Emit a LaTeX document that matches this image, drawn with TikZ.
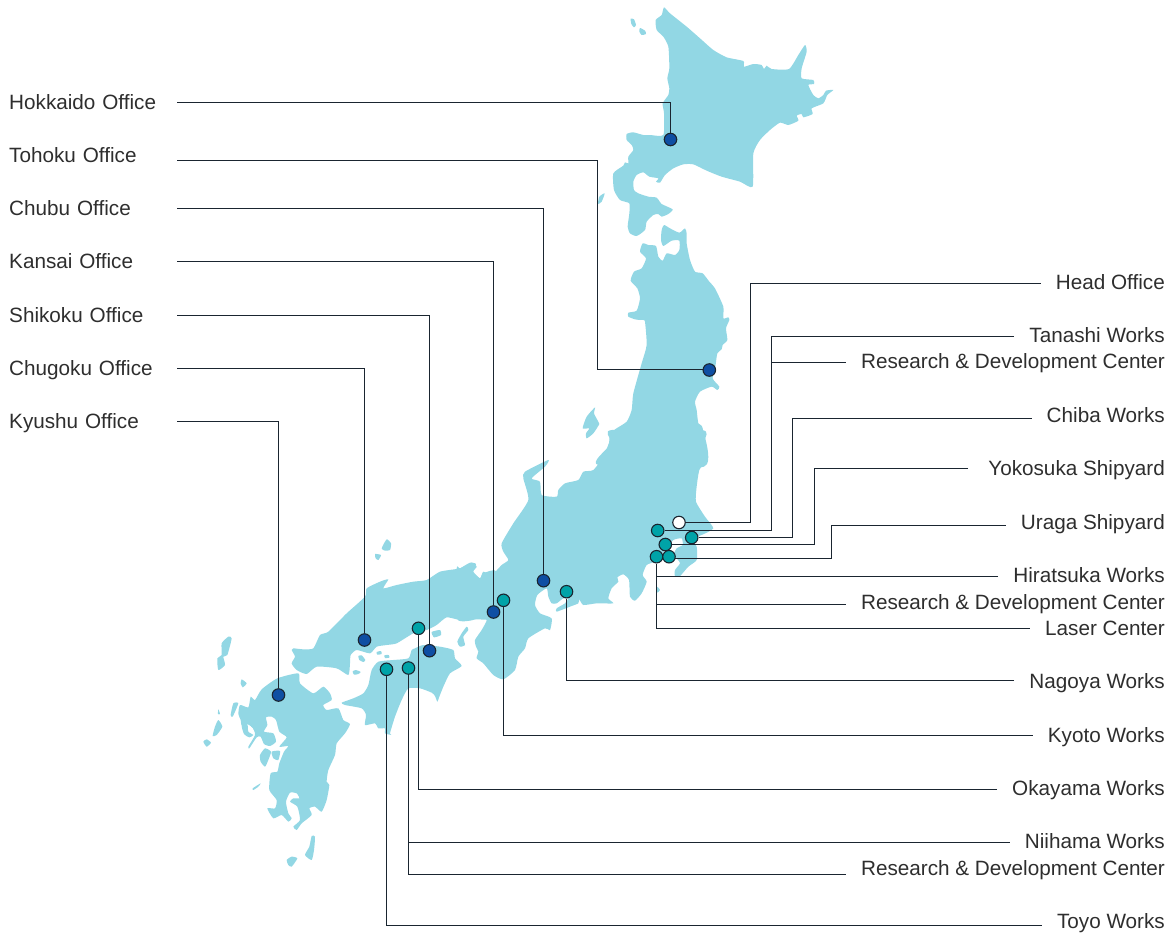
\documentclass[tikz,border=0pt]{standalone}
\usepackage{fontspec}
\setmainfont{Liberation Sans}
\definecolor{landc}{HTML}{92D7E4}
\definecolor{bluedot}{HTML}{0F4FA3}
\definecolor{tealdot}{HTML}{00A3A8}
\definecolor{inkc}{HTML}{1A2530}
\definecolor{textc}{HTML}{2E2E2E}
\tikzset{
  zoomed/.style 2 args={shift={(#1,#2)},x=.33333pt,y=-.33333pt},
  land/.style={fill=landc,draw=none},
  gap/.style={fill=white,draw=none},
  labelbase/.style={inner ysep=0pt,text height=16pt,text depth=2pt,text=textc,font=\fontsize{20.7}{24}\selectfont},
  leftlabel/.style={labelbase,inner xsep=0pt,text width=168pt,align=left,anchor=west},
  rightlabel/.style={labelbase,inner xsep=15pt,anchor=east},
  dotbase/.style={circle,draw=inkc,line width=1.1pt,minimum size=12.5pt,inner sep=0pt},
  office/.style={dotbase,fill=bluedot},
  works/.style={dotbase,fill=tealdot},
  head/.style={dotbase,fill=white},
  link/.style={draw=inkc,line width=1pt},
}
\newcommand{\isle}[1]{\fill[land] plot[smooth cycle,tension=.35] coordinates {#1};}
\newcommand{\hole}[1]{\fill[gap] plot[smooth cycle,tension=.35] coordinates {#1};}
\begin{document}
\begin{tikzpicture}[x=1pt,y=-1pt]
\useasboundingbox (0,0) rectangle (1173,935);
% Hokkaido
\begin{scope}[zoomed={590}{0}]
\isle{(222,22)(240,40)(290,80)(330,115)(370,150)(410,172)(460,183)(462,200)(490,192)(515,195)(522,207)(530,197)(545,207)(597,207)(625,165)(645,135)(650,155)(635,205)(635,235)(670,240)(672,252)(655,255)(670,285)(685,295)(700,285)(708,272)(730,270)(712,285)(700,310)(665,325)(668,342)(640,352)(635,342)(620,347)(625,362)(595,375)(570,368)(540,390)(510,420)(490,460)(488,560)(450,545)(395,530)(350,512)(310,493)(280,493)(250,505)(225,525)(210,548)(198,545)(205,535)(178,530)(160,517)(140,525)(130,545)(132,570)(145,580)(175,590)(200,593)(215,612)(248,628)(235,642)(215,650)(205,642)(190,645)(170,665)(165,690)(140,708)(120,700)(113,680)(118,640)(118,610)(90,600)(72,570)(70,520)(100,497)(105,487)(115,490)(115,470)(130,450)(125,435)(110,420)(110,402)(130,397)(160,405)(180,405)(220,405)(222,340)(218,310)(235,285)(238,265)(232,235)(238,205)(235,140)(220,110)(200,90)(197,60)(215,45)}
\isle{(122,56)(132,58)(138,75)(132,82)(124,72)}
\isle{(150,84)(165,92)(168,102)(155,105)(148,95)}
\isle{(28,590)(44,580)(35,605)(24,612)}
\end{scope}
% Tohoku
\begin{scope}[zoomed={480}{220}]
\isle{(552,15)(570,25)(598,38)(615,25)(620,40)(620,70)(630,120)(645,155)(668,160)(688,185)(705,205)(730,260)(730,295)(745,292)(748,300)(738,325)(742,360)(728,375)(725,388)(712,400)(706,440)(698,475)(718,500)(712,510)(695,500)(660,515)(645,545)(650,570)(655,610)(668,625)(672,740)(355,735)(385,680)(390,645)(405,628)(440,605)(455,570)(460,520)(485,430)(500,375)(495,305)(490,300)(480,300)(465,298)(445,290)(445,278)(470,272)(480,235)(472,205)(452,182)(462,155)(485,145)(498,115)(480,95)(488,70)(505,75)(528,78)(535,110)(548,122)(560,100)(585,105)(598,90)(598,62)(575,62)(550,78)(543,60)(545,30)}
\isle{(345,562)(342,580)(355,605)(358,612)(340,640)(320,655)(318,640)(328,625)(308,625)(320,590)}
\end{scope}
% Central Honshu
\begin{scope}[zoomed={460}{440}]
\isle{(400,90)(430,50)(450,0)(455,-30)(725,-30)(735,0)(738,60)(718,90)(710,140)(708,185)(735,230)(760,265)(725,285)(695,295)(710,320)(710,360)(685,380)(660,408)(645,408)(645,390)(660,370)(650,355)(640,345)(650,325)(668,315)(665,295)(640,300)(620,325)(600,350)(585,365)(560,375)(548,405)(560,425)(545,460)(525,482)(510,470)(507,420)(490,403)(472,412)(475,425)(455,445)(445,475)(460,490)(410,490)(370,495)(358,478)(355,490)(335,498)(290,515)(290,505)(315,490)(325,475)(310,475)(290,490)(275,490)(265,470)(260,445)(232,465)(225,495)(240,520)(275,535)(270,570)(255,565)(205,595)(195,625)(175,650)(165,690)(130,718)(100,705)(70,670)(50,655)(55,635)(48,620)(45,600)(65,570)(80,540)(55,535)(30,542)(-10,535)(-10,385)(0,385)(30,368)(48,372)(38,395)(60,415)(70,395)(95,405)(125,375)(145,360)(130,335)(125,310)(160,250)(205,180)(190,115)(195,95)(265,60)(255,80)(215,115)(240,125)(245,165)(290,170)(295,150)(315,130)(355,120)(370,95)}
\isle{(592,440)(600,450)(592,458)}
\end{scope}
% Western Honshu, Shikoku and islets
\begin{scope}[zoomed={280}{530}]
\isle{(650,125)(650,250)(620,268)(590,268)(540,270)(500,262)(470,285)(440,300)(400,310)(350,340)(320,345)(290,350)(270,370)(230,360)(212,375)(210,400)(205,435)(170,415)(110,410)(80,432)(50,420)(35,400)(45,380)(35,360)(40,355)(70,358)(100,355)(120,315)(145,305)(200,250)(255,200)(260,175)(300,155)(325,148)(310,175)(350,165)(400,155)(440,150)(480,125)(540,115)(575,98)(590,110)(580,125)(600,145)(610,130)}
\isle{(405,355)(430,345)(480,350)(520,360)(525,385)(545,408)(510,430)(490,470)(478,500)(472,515)(465,498)(455,488)(420,475)(385,475)(365,510)(345,560)(330,610)(335,615)(315,610)(315,595)(295,595)(285,580)(255,585)(258,555)(245,535)(195,525)(185,518)(220,505)(250,490)(265,465)(275,420)(295,395)(340,390)(385,385)(395,360)}
\isle{(560,290)(565,300)(550,320)(555,345)(540,350)(532,335)(545,310)}
\isle{(455,306)(480,300)(483,315)(462,322)}
\isle{(290,366)(303,363)(305,372)(292,374)}
\isle{(313,376)(326,375)(328,383)(315,384)}
\isle{(235,378)(245,376)(256,390)(250,396)(238,390)}
\isle{(218,424)(228,420)(242,426)(235,432)(222,434)}
\isle{(305,55)(320,28)(333,40)(330,60)(315,62)}
\isle{(285,72)(303,75)(295,90)(287,85)}
\end{scope}
% Kyushu
\begin{scope}[zoomed={190}{620}]
\isle{(262,175)(325,160)(330,190)(370,220)(400,200)(420,220)(425,240)(400,255)(410,270)(445,265)(460,300)(480,312)(465,340)(440,370)(435,405)(415,450)(410,485)(418,495)(410,540)(395,575)(375,560)(358,565)(365,585)(335,610)(320,630)(310,620)(330,600)(322,560)(300,545)(310,535)(328,535)(320,520)(300,518)(288,545)(295,580)(305,595)(295,605)(275,585)(250,595)(232,565)(255,565)(260,540)(238,510)(242,460)(262,455)(268,430)(282,395)(295,378)(268,380)(290,352)(268,335)(258,300)(245,290)(228,292)(232,315)(222,335)(250,340)(258,365)(240,378)(222,372)(212,350)(200,352)(178,385)(175,380)(195,345)(188,325)(172,312)(155,316)(152,300)(145,282)(150,255)(175,262)(182,230)(195,240)(215,208)}
\isle{(155,316)(172,312)(175,335)(190,345)(178,352)(162,342)}
\hole{(176,316)(188,325)(194,340)(186,338)}
\isle{(115,50)(125,55)(112,105)(100,110)(105,135)(85,150)(82,115)(95,105)(95,70)}
\isle{(155,178)(170,190)(158,202)(152,190)}
\isle{(130,250)(145,250)(128,290)(122,285)}
\isle{(85,268)(90,282)(84,282)}
\isle{(85,300)(97,320)(80,345)(68,348)(75,320)}
\isle{(40,365)(50,358)(63,368)(50,380)}
\isle{(188,505)(212,490)(205,500)(190,510)}
\isle{(365,648)(375,650)(372,690)(365,720)(345,705)(358,680)}
\isle{(290,720)(305,710)(322,715)(305,740)(295,735)}
\isle{(210,405)(225,385)(243,395)(235,420)(225,440)(212,425)}
\isle{(245,395)(270,393)(265,420)(250,415)}
\end{scope}
% Dots
\node[office] (dHok) at (670.5,139.5) {};
\node[office] (dToh) at (709.3,370) {};
\node[office] (dChu) at (543.5,580.7) {};
\node[office] (dKan) at (493.5,612) {};
\node[office] (dShi) at (429.5,650.7) {};
\node[office] (dChg) at (364.5,640) {};
\node[office] (dKyu) at (278.5,695) {};
\node[head] (dHead) at (679,522.5) {};
\node[works] (dTan) at (657.7,530.5) {};
\node[works] (dChi) at (691.7,537.5) {};
\node[works] (dYok) at (665.3,544.5) {};
\node[works] (dHir) at (656.5,556.7) {};
\node[works] (dUra) at (669,556.7) {};
\node[works] (dNag) at (566.5,591.7) {};
\node[works] (dKyo) at (503.5,600.3) {};
\node[works] (dOka) at (418.5,628.3) {};
\node[works] (dNii) at (408.5,668) {};
\node[works] (dToy) at (386.5,669.3) {};
% Left labels
\node[leftlabel] (lHok) at (9,102) {Hokkaido Office};
\node[leftlabel] (lToh) at (9,155.5) {Tohoku Office};
\node[leftlabel] (lChu) at (9,208.5) {Chubu Office};
\node[leftlabel] (lKan) at (9,261.5) {Kansai Office};
\node[leftlabel] (lShi) at (9,315) {Shikoku Office};
\node[leftlabel] (lChg) at (9,368.5) {Chugoku Office};
\node[leftlabel] (lKyu) at (9,421.5) {Kyushu Office};
% Right labels
\node[rightlabel] (lHead) at (1180,282) {Head Office};
\node[rightlabel] (lTan) at (1180,335) {Tanashi Works};
\node[rightlabel] (lRDa) at (1180,361.3) {Research \& Development Center};
\node[rightlabel] (lChi) at (1180,415) {Chiba Works};
\node[rightlabel,inner xsep=20pt] (lYok) at (1185,468) {Yokosuka Shipyard};
\node[rightlabel] (lUra) at (1180,522) {Uraga Shipyard};
\node[rightlabel] (lHir) at (1180,575) {Hiratsuka Works};
\node[rightlabel] (lRDb) at (1180,602) {Research \& Development Center};
\node[rightlabel] (lLas) at (1180,628) {Laser Center};
\node[rightlabel] (lNag) at (1180,681.5) {Nagoya Works};
\node[rightlabel] (lKyo) at (1180,735) {Kyoto Works};
\node[rightlabel] (lOka) at (1180,788) {Okayama Works};
\node[rightlabel] (lNii) at (1180,841.5) {Niihama Works};
\node[rightlabel] (lRDc) at (1180,868) {Research \& Development Center};
\node[rightlabel] (lToy) at (1180,921.5) {Toyo Works};
% Elbows
\coordinate (eToh) at (597.5,369.5);
\coordinate (fToh) at (702.8,369.5);
\coordinate (eHead) at (750.5,522.5);
\coordinate (eTan) at (771.5,530.5);
\coordinate (jTan) at (771.5,362.5);
\coordinate (eChi) at (792.5,537.5);
\coordinate (eYok) at (814.5,544.5);
\coordinate (eUra) at (831.5,558.5);
\coordinate (fUra) at (675,558.5);
% Connectors, left
\draw[link] ([yshift=-.5pt]lHok.east) -| (dHok);
\draw[link] ([yshift=-5pt]lToh.east) -| (eToh) -- (fToh);
\draw[link] (lChu.east) -| (dChu);
\draw[link] (lKan.east) -| (dKan);
\draw[link] ([yshift=-.5pt]lShi.east) -| (dShi);
\draw[link] (lChg.east) -| (dChg);
\draw[link] (lKyu.east) -| (dKyu);
% Connectors, right
\draw[link] ([yshift=-1.5pt]lHead.west) -| (eHead) -- (dHead);
\draw[link] ([yshift=-1.5pt]lTan.west) -| (eTan) -- (dTan);
\draw[link] ([yshift=-1.2pt]lRDa.west) -- (jTan);
\draw[link] ([yshift=-3.5pt]lChi.west) -| (eChi) -- (dChi);
\draw[link] ([yshift=-.5pt]lYok.west) -| (eYok) -- (dYok);
\draw[link] ([yshift=-3.5pt]lUra.west) -| (eUra) -- (fUra);
\draw[link] ([yshift=-1.5pt]lHir.west) -| (dHir);
\draw[link] ([yshift=-2.5pt]lRDb.west) -| (dHir);
\draw[link] ([yshift=-.5pt]lLas.west) -| (dHir);
\draw[link] ([yshift=1pt]lNag.west) -| (dNag);
\draw[link] ([yshift=-.5pt]lKyo.west) -| (dKyo);
\draw[link] ([yshift=-1.5pt]lOka.west) -| (dOka);
\draw[link] ([yshift=-1pt]lNii.west) -| (dNii);
\draw[link] ([yshift=-6.5pt]lRDc.west) -| (dNii);
\draw[link] ([yshift=-4pt]lToy.west) -| (dToy);
\end{tikzpicture}
\end{document}
